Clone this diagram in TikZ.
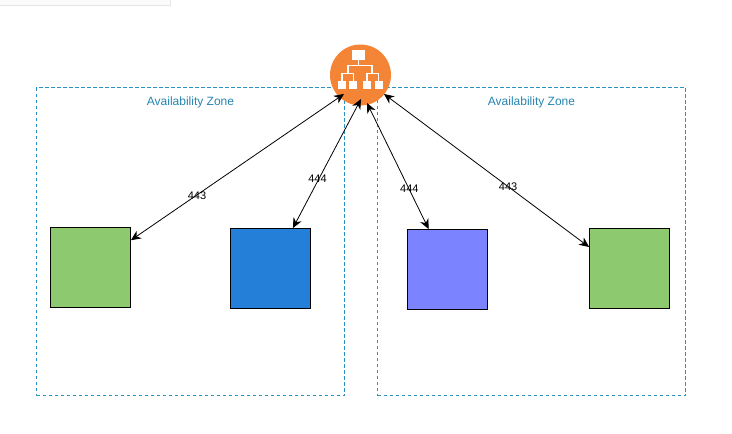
\documentclass[tikz,border=0pt]{standalone}
\usepackage{fontspec}
\setmainfont{Liberation Sans}
\usepackage{tikz}
\usetikzlibrary{arrows.meta}
\usetikzlibrary{positioning}

\definecolor{zoneblue}{HTML}{2A93C4}
\definecolor{hubcolor}{HTML}{F58536}
\definecolor{greenbox}{HTML}{8DC96F}
\definecolor{bluebox}{HTML}{237FD8}
\definecolor{purplebox}{HTML}{7B83FF}

\tikzset{
  zone/.style={rectangle, draw=zoneblue, dash pattern=on 3.5pt off 2.5pt, line width=1.6pt, minimum width=308pt, minimum height=308pt, inner sep=0pt},
  zone label/.style={text=zoneblue!90!black, font=\fontsize{12}{14}\selectfont},
  server/.style={draw=black, line width=0.8pt, minimum size=80pt, inner sep=0pt},
  link/.style={<->, >={Stealth[length=10pt,width=9pt]}, line width=0.8pt},
  port/.style={font=\fontsize{11}{13}\selectfont, inner sep=0pt, yshift=-1pt},
  icon box/.style={fill=white, draw=none},
  icon line/.style={draw=white, line width=1.2pt}
}

\begin{document}
\begin{tikzpicture}[x=1pt, y=-1pt]
\useasboundingbox (0,0) rectangle (732,434);

% strip in the top corner
\filldraw [fill=black!2, draw=black!10, line width=0.8pt] (-2,-2) rectangle (170,5);

% zones
\foreach \m/\x in {left/190.5, right/531.5}
{
  \node [zone] (zone-\m) at (\x,241.5) {};
  \node [zone label, below=6.5pt of zone-\m.north] (label-\m) {Availability Zone};
}

% hub
\node [circle, fill=hubcolor, minimum size=61pt, inner sep=0pt] (hub) at (360.5,75) {};
\fill [icon box] (352,50) rectangle (365,59.5);
\draw [icon line] (358.5,59) -- (358.5,65.7);
\draw [icon line] (348,73.3) -- (348,65.7) -- (372,65.7) -- (372,73.3);
\draw [icon line] (342,81.5) -- (342,73.3) -- (353.5,73.3) -- (353.5,81.5);
\draw [icon line] (367,81.5) -- (367,73.3) -- (378.5,73.3) -- (378.5,81.5);
\foreach \x in {338,349,363,374.5}
  \fill [icon box] (\x,81.3) rectangle ++(8.3,8);

% servers
\foreach \m/\c/\x/\y in {a/greenbox/90.5/267.5, b/bluebox/270.5/268.5, c/purplebox/447.5/269.5, d/greenbox/629.5/268.5}
  \node [server, fill=\c] (server-\m) at (\x,\y) {};

\coordinate (hub-a) at (344,94);
\coordinate (hub-b) at (361,99);
\coordinate (hub-c) at (367,103);
\coordinate (hub-d) at (384,94);

% connections
\foreach \m/\a/\p/\s/\l in {a/34/0.31/0/443, b/61/0.39/-2/444, c/115/0.33/1/444, d/152/0.40/1/443}
  \draw [link] (server-\m.\a) -- (hub-\m)
    node [port, pos=\p, xshift=\s pt] (port-\m) {\l};

\end{tikzpicture}
\end{document}
